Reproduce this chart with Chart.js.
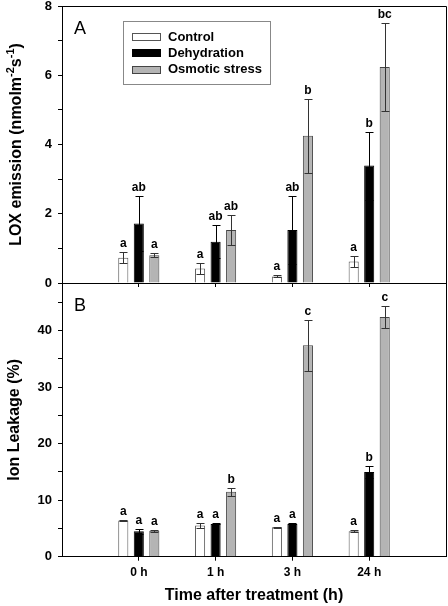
<!DOCTYPE html>
<html><head><meta charset="utf-8">
<script src="https://cdn.jsdelivr.net/npm/chart.js@4.4.0/dist/chart.umd.min.js"></script>
<style>
html,body{margin:0;padding:0;background:#fff;}
#wrap{position:relative;width:448px;height:606px;overflow:hidden;background:#fff;}
#ca{position:absolute;left:0;top:0;}
#cb{position:absolute;left:0;top:270px;}
</style></head><body>
<div id="wrap"><canvas id="ca" width="448" height="290"></canvas><canvas id="cb" width="448" height="336"></canvas></div>
<script>
// ---------- data ----------
const categories = ['0 h', '1 h', '3 h', '24 h'];
const seriesNames = ['Control', 'Dehydration', 'Osmotic stress'];

const loxControl   = [0.73, 0.42, 0.19, 0.62];
const loxControlSE = [0.16, 0.15, 0.03, 0.15];
const loxDehyd     = [1.72, 1.19, 1.53, 3.39];
const loxDehydSE   = [0.80, 0.48, 0.99, 0.98];
const loxOsm       = [0.80, 1.53, 4.25, 6.24];
const loxOsmSE     = [0.06, 0.44, 1.06, 1.28];
const loxLettersControl = ['a', 'a', 'a', 'a'];
const loxLettersDehyd   = ['ab', 'ab', 'ab', 'b'];
const loxLettersOsm     = ['a', 'ab', 'b', 'bc'];

const ionControl   = [6.4, 5.5, 5.2, 4.5];
const ionControlSE = [0.15, 0.45, 0.1, 0.15];
const ionDehyd     = [4.5, 5.8, 5.8, 15.0];
const ionDehydSE   = [0.45, 0.1, 0.1, 1.0];
const ionOsm       = [4.6, 11.5, 37.4, 42.4];
const ionOsmSE     = [0.2, 0.7, 4.5, 2.0];
const ionLettersControl = ['a', 'a', 'a', 'a'];
const ionLettersDehyd   = ['a', 'a', 'a', 'b'];
const ionLettersOsm     = ['a', 'b', 'c', 'c'];

const loxTickValues = [0, 1, 2, 3, 4, 5, 6, 7, 8];
const loxTickLabels = ['0', '', '2', '', '4', '', '6', '', '8'];
const ionTickValues = [0, 5, 10, 15, 20, 25, 30, 35, 40, 45];
const ionTickLabels = ['0', '', '10', '', '20', '', '30', '', '40', ''];

// ---------- styles ----------
const FONT = 'Arial, "Liberation Sans", sans-serif';
const fills = ['#ffffff', '#000000', '#b4b4b4'];
const borders = ['#555555', '#000000', '#444444'];
const errColors = ['#333333', '#000000', '#333333'];

function pts(arr) { return arr.map((v, i) => ({ x: i + 1, y: v })); }
function makeDatasets(vals, errs, letters) {
  return vals.map((v, k) => ({
    label: seriesNames[k],
    data: pts(v),
    errors: errs[k],
    letters: letters[k],
    errColor: errColors[k],
    backgroundColor: fills[k],
    borderColor: borders[k],
    borderWidth: 1,
    borderSkipped: 'start',
    categoryPercentage: 0.606,
    barPercentage: 0.65
  }));
}

const errPlugin = {
  id: 'errbars',
  afterDatasetsDraw(chart) {
    const ctx = chart.ctx, ys = chart.scales.y;
    chart.data.datasets.forEach((ds, i) => {
      const meta = chart.getDatasetMeta(i);
      meta.data.forEach((bar, j) => {
        const v = ds.data[j].y, e = ds.errors[j];
        const x = Math.round(bar.x) + 0.5;
        const yt = Math.round(ys.getPixelForValue(v + e)) + 0.5;
        const yb = Math.round(ys.getPixelForValue(v - e)) + 0.5;
        ctx.save();
        ctx.strokeStyle = ds.errColor;
        ctx.lineWidth = 1;
        ctx.beginPath();
        ctx.moveTo(x, yt); ctx.lineTo(x, yb);
        ctx.moveTo(x - 4, yt); ctx.lineTo(x + 4, yt);
        ctx.moveTo(x - 4, yb); ctx.lineTo(x + 4, yb);
        ctx.stroke();
        ctx.fillStyle = '#000';
        ctx.font = 'bold 12px ' + FONT;
        ctx.textAlign = 'center';
        ctx.textBaseline = 'alphabetic';
        ctx.fillText(ds.letters[j], bar.x, yt - 6);
        ctx.restore();
      });
    });
  }
};

const framePlugin = {
  id: 'frame',
  afterDraw(chart, args, opts) {
    const { ctx, chartArea: a } = chart;
    ctx.save();
    ctx.strokeStyle = '#000';
    ctx.lineWidth = 1;
    ctx.beginPath();
    ctx.moveTo(Math.round(a.left), Math.round(a.top) + 0.5);
    ctx.lineTo(Math.round(a.right) + 0.5, Math.round(a.top) + 0.5);
    ctx.lineTo(Math.round(a.right) + 0.5, Math.round(a.bottom));
    ctx.stroke();
    // panel letter
    ctx.fillStyle = '#000';
    ctx.font = '18px ' + FONT;
    ctx.textAlign = 'left';
    ctx.textBaseline = 'top';
    ctx.fillText(opts.panel, 74, a.top + 14);
    // y title
    ctx.translate(opts.titleX, (a.top + a.bottom) / 2);
    ctx.rotate(-Math.PI / 2);
    ctx.textBaseline = 'middle';
    const pieces = opts.title;
    let total = 0;
    pieces.forEach(p => { ctx.font = (p[1] ? 'bold 11px ' : 'bold 16px ') + FONT; total += ctx.measureText(p[0]).width; });
    let xx = -total / 2;
    pieces.forEach(p => {
      ctx.font = (p[1] ? 'bold 11px ' : 'bold 16px ') + FONT;
      ctx.fillText(p[0], xx, p[1] ? -6 : 0);
      xx += ctx.measureText(p[0]).width;
    });
    ctx.restore();
  }
};

const legendPlugin = {
  id: 'boxlegend',
  afterDraw(chart, args, opts) {
    if (!opts.show) return;
    const ctx = chart.ctx;
    ctx.save();
    ctx.strokeStyle = '#888';
    ctx.lineWidth = 1;
    ctx.strokeRect(123.5, 21.5, 147, 63);
    chart.data.datasets.forEach((ds, k) => {
      const cy = 37 + k * 16.3;
      ctx.fillStyle = ds.backgroundColor;
      ctx.fillRect(132, Math.round(cy - 4), 29, 8);
      ctx.strokeStyle = ds.borderColor;
      ctx.strokeRect(132.5, Math.round(cy - 4) + 0.5, 28, 7);
      ctx.fillStyle = '#000';
      ctx.font = 'bold 13px ' + FONT;
      ctx.textAlign = 'left';
      ctx.textBaseline = 'middle';
      ctx.fillText(ds.label, 168, cy);
    });
    ctx.restore();
  }
};

function xScale(showLabels, height, title) {
  return {
    type: 'linear', min: 0, max: 5, offset: false,
    afterBuildTicks: s => { s.ticks = categories.map((c, i) => ({ value: i + 1 })); },
    afterFit: s => { s.height = height; s.paddingLeft = 0; s.paddingRight = 0; },
    grid: { offset: false, drawOnChartArea: false, drawTicks: true, tickLength: 4, color: '#000' },
    border: { display: true, color: '#000', width: 1 },
    ticks: {
      display: showLabels, padding: 5, color: '#000', autoSkip: false, maxRotation: 0,
      font: { family: FONT, size: 12, weight: 'bold' },
      callback: (v) => categories[Math.round(v) - 1] || ''
    },
    title: title ? { display: true, text: title, color: '#000', padding: { top: 0, bottom: 1 },
      font: { family: FONT, size: 16, weight: 'bold' } } : { display: false }
  };
}
function yScale(max, values, labels) {
  return {
    type: 'linear', min: 0, max: max,
    afterBuildTicks: s => { s.ticks = values.map(v => ({ value: v })); },
    afterFit: s => { s.width = 62; s.paddingTop = 0; s.paddingBottom = 0; },
    grid: { drawOnChartArea: false, drawTicks: true, tickLength: 4, color: '#000' },
    border: { display: true, color: '#000', width: 1 },
    ticks: {
      padding: 6, color: '#000', autoSkip: false,
      font: { family: FONT, size: 13, weight: 'bold' },
      callback: (v) => { const i = values.indexOf(v); return i >= 0 ? labels[i] : ''; }
    }
  };
}

Chart.defaults.font.family = FONT;

new Chart(document.getElementById('ca'), {
  type: 'bar',
  data: { datasets: makeDatasets([loxControl, loxDehyd, loxOsm], [loxControlSE, loxDehydSE, loxOsmSE],
    [loxLettersControl, loxLettersDehyd, loxLettersOsm]) },
  options: {
    responsive: false, animation: false,
    layout: { padding: { top: 6, right: 2, left: 0, bottom: 0 } },
    plugins: {
      legend: { display: false }, tooltip: { enabled: false },
      frame: { panel: 'A', titleX: 17, title: [['LOX emission (nmolm', false], ['-2', true], ['s', false], ['-1', true], [')', false]] },
      boxlegend: { show: true }
    },
    scales: { x: xScale(false, 7, null), y: yScale(8, loxTickValues, loxTickLabels) }
  },
  plugins: [errPlugin, framePlugin, legendPlugin]
});

new Chart(document.getElementById('cb'), {
  type: 'bar',
  data: { datasets: makeDatasets([ionControl, ionDehyd, ionOsm], [ionControlSE, ionDehydSE, ionOsmSE],
    [ionLettersControl, ionLettersDehyd, ionLettersOsm]) },
  options: {
    responsive: false, animation: false,
    layout: { padding: { top: 13, right: 2, left: 0, bottom: 0 } },
    plugins: {
      legend: { display: false }, tooltip: { enabled: false },
      frame: { panel: 'B', titleX: 15, title: [['Ion Leakage (%)', false]] },
      boxlegend: { show: false }
    },
    scales: { x: xScale(true, 49.3, 'Time after treatment (h)'), y: yScale(48.4, ionTickValues, ionTickLabels) }
  },
  plugins: [errPlugin, framePlugin, legendPlugin]
});
</script>
</body></html>
